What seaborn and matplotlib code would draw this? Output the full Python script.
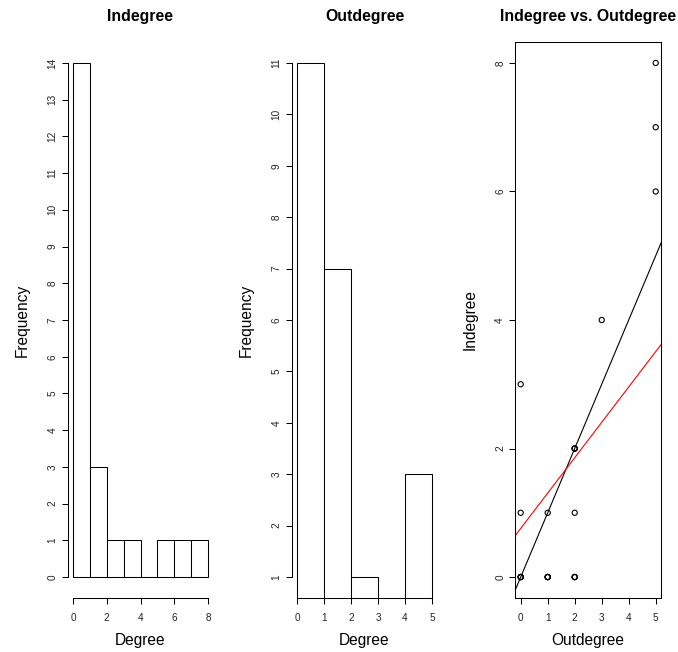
import numpy as np
import pandas as pd
import matplotlib
matplotlib.use("Agg")
import matplotlib.pyplot as plt
import seaborn as sns

outdegree = [0, 0, 0, 0, 1, 1, 1, 1, 0, 1, 2, 2, 2, 2, 2, 2, 2, 0, 3, 5, 5, 5]
indegree = [0, 0, 0, 0, 0, 0, 0, 0, 1, 1, 0, 0, 0, 1, 2, 2, 2, 3, 4, 6, 7, 8]

in_breaks = [0, 1, 2, 3, 4, 5, 6, 7, 8]
out_breaks = [0, 1, 2, 3, 4, 5]
in_xticks = [0, 2, 4, 6, 8]
in_yticks = list(range(0, 15))
out_xticks = [0, 1, 2, 3, 4, 5]
out_yticks = list(range(1, 12))
sc_xticks = [0, 1, 2, 3, 4, 5]
sc_yticks = [0, 2, 4, 6, 8]

plt.rcParams['font.family'] = ['Liberation Sans', 'DejaVu Sans']
LW = 0.75
W, H = 678, 652
LEFTS = [67.6, 291.6, 515.3]
PW, PH, PB = 145.8, 555.2, 54.4


def r_hist(ax, values, breaks):
    # R's hist(): right-closed bins, lowest break included
    binned = pd.cut(pd.Series(values), bins=breaks, right=True, include_lowest=True)
    counts = binned.value_counts(sort=False)
    centers = np.array(breaks[:-1]) + 0.5
    sns.histplot(x=centers, weights=counts.values, bins=breaks, ax=ax,
                 color='white', edgecolor='black', linewidth=LW, alpha=1)


def r_axes(ax, xlim, ylim, xticks, yticks, box=False):
    ax.set_xlim(*xlim)
    ax.set_ylim(*ylim)
    ax.set_xticks(xticks)
    ax.set_yticks(yticks)
    for s in ax.spines.values():
        s.set_linewidth(LW)
    if not box:
        ax.spines['top'].set_visible(False)
        ax.spines['right'].set_visible(False)
        ax.spines['bottom'].set_bounds(xticks[0], xticks[-1])
        ax.spines['left'].set_bounds(yticks[0], yticks[-1])
    ax.tick_params(length=4.3, width=LW, labelsize=7.2, color='black',
                   labelcolor='#222222')
    ax.tick_params(axis='x', pad=6.8)
    ax.tick_params(axis='y', pad=3.0, labelrotation=90)
    plt.setp(ax.get_yticklabels(), va='center')


def r_labels(ax, title, xlabel, ylabel):
    ax.set_title(title, fontsize=11.4, fontweight='bold', y=1 + 25.4 / PH,
                 va='center', pad=0)
    ax.set_xlabel(xlabel, fontsize=11.2)
    ax.set_ylabel(ylabel, fontsize=11.2)
    ax.xaxis.label.set_va('center')
    ax.yaxis.label.set_va('center')
    ax.xaxis.set_label_coords(0.5, -42.4 / PH)
    ax.yaxis.set_label_coords(-45.6 / PW, 0.5)


fig = plt.figure(figsize=(W / 100, H / 100), dpi=100)
axes = [fig.add_axes([l / W, PB / H, PW / W, PH / H]) for l in LEFTS]

# Indegree histogram
ax = axes[0]
r_hist(ax, indegree, in_breaks)
r_axes(ax, (-0.32, 8.32), (-0.56, 14.56), in_xticks, in_yticks)
r_labels(ax, 'Indegree', 'Degree', 'Frequency')

# Outdegree histogram
ax = axes[1]
r_hist(ax, outdegree, out_breaks)
r_axes(ax, (-0.2, 5.2), (0.6, 11.4), out_xticks, out_yticks)
r_labels(ax, 'Outdegree', 'Degree', 'Frequency')

# scatter with y = x and the fitted line
ax = axes[2]
sns.scatterplot(x=outdegree, y=indegree, ax=ax, s=14, color='black', linewidth=0.8)
pts = ax.collections[0]
pts.set_facecolor('none')
pts.set_edgecolor('black')
ax.axline((0, 0), slope=1, color='black', linewidth=0.8)
b, a = np.polyfit(indegree, outdegree, 1)
ax.axline((0, a), slope=b, color='red', linewidth=0.8)
r_axes(ax, (-0.2, 5.2), (-0.32, 8.32), sc_xticks, sc_yticks, box=True)
r_labels(ax, 'Indegree vs. Outdegree', 'Outdegree', 'Indegree')

fig.savefig('out.png', dpi=100)
